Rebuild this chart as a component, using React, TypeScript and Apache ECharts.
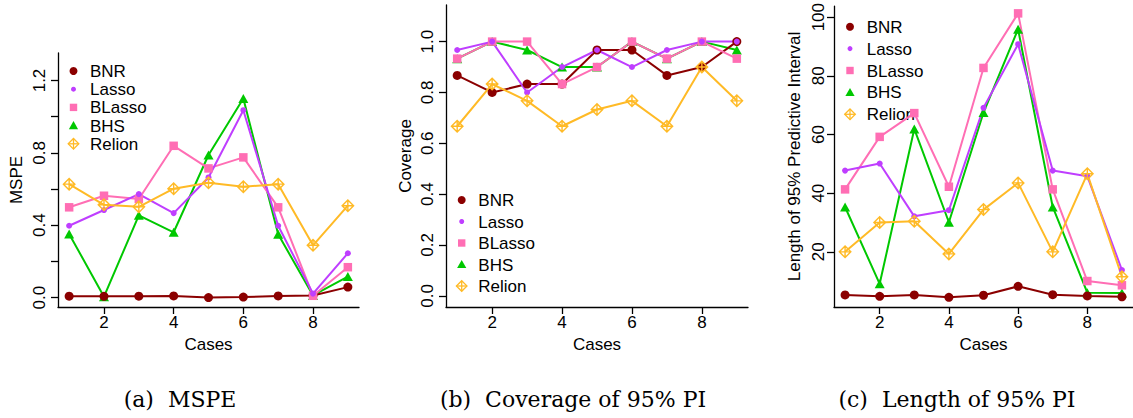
import React, { useEffect, useRef } from "react";
import * as echarts from "echarts";

// ---------- data ----------
const cases = [1, 2, 3, 4, 5, 6, 7, 8, 9];
const methodNames = ["BNR", "Lasso", "BLasso", "BHS", "Relion"];

// (a) MSPE
const mspeBNR = [0.008, 0.007, 0.008, 0.009, 0.0, 0.003, 0.009, 0.012, 0.058];
const mspeLasso = [0.397, 0.484, 0.572, 0.467, 0.664, 1.036, 0.397, 0.022, 0.245];
const mspeBLasso = [0.499, 0.563, 0.545, 0.839, 0.714, 0.775, 0.499, 0.01, 0.168];
const mspeBHS = [0.352, 0.005, 0.455, 0.361, 0.788, 1.1, 0.35, 0.012, 0.116];
const mspeRelion = [0.627, 0.513, 0.502, 0.602, 0.635, 0.613, 0.627, 0.289, 0.508];

// (b) Coverage of 95% PI
const covBNR = [0.867, 0.8, 0.833, 0.833, 0.967, 0.967, 0.867, 0.9, 1.0];
const covLasso = [0.967, 1.0, 0.8, 0.9, 0.967, 0.9, 0.967, 1.0, 1.0];
const covBLasso = [0.933, 1.0, 1.0, 0.833, 0.9, 1.0, 0.933, 1.0, 0.933];
const covBHS = [0.933, 1.0, 0.967, 0.9, 0.9, 1.0, 0.933, 1.0, 0.967];
const covRelion = [0.667, 0.833, 0.767, 0.667, 0.733, 0.767, 0.667, 0.9, 0.767];

// (c) Length of 95% PI
const lenBNR = [5.3, 4.85, 5.3, 4.5, 5.2, 8.25, 5.4, 4.96, 4.7];
const lenLasso = [47.7, 50.1, 32.1, 34.2, 69.1, 90.8, 47.7, 45.8, 13.8];
const lenBLasso = [41.3, 59.2, 67.3, 42.2, 82.7, 101.3, 41.3, 10.05, 8.6];
const lenBHS = [35.3, 9.1, 61.9, 30.1, 67.5, 95.9, 35.3, 6.1, 6.0];
const lenRelion = [20.0, 30.0, 30.4, 19.3, 34.4, 43.5, 20.0, 46.6, 11.5];

// tick labels
const xTicks = [2, 4, 6, 8];
const mspeTicks = [0, 0.2, 0.4, 0.6, 0.8, 1.0, 1.2];
const mspeLabels = [0, 0.4, 0.8, 1.2];
const covTicks = [0, 0.2, 0.4, 0.6, 0.8, 1.0];
const lenTicks = [20, 40, 60, 80, 100];

const captions = ["(a)  MSPE", "(b)  Coverage of 95% PI", "(c)  Length of 95% PI"];
const yNames = ["MSPE", "Coverage", "Length of 95% Predictive Interval"];

// ---------- styles ----------
const COLORS: Record<string, string> = {
  BNR: "#8B0000",
  Lasso: "#BF3EFF",
  BLasso: "#FF6EB4",
  BHS: "#00C800",
  Relion: "#FFBA26",
};
const DIAMOND = "path://M5 0L10 5L5 10L0 5Z M5 0L5 10 M0 5L10 5";
const SANS = "'Liberation Sans', Arial, sans-serif";
const SERIF = "'DejaVu Serif', serif";

function symbolFor(name: string) {
  switch (name) {
    case "BNR":
      return { symbol: "circle", symbolSize: 9 };
    case "Lasso":
      return { symbol: "circle", symbolSize: 6 };
    case "BLasso":
      return { symbol: "rect", symbolSize: 8.5 };
    case "BHS":
      return { symbol: "triangle", symbolSize: [10, 9] };
    default:
      return { symbol: DIAMOND, symbolSize: 11.5 };
  }
}

const drawOrder = ["BHS", "BNR", "BLasso", "Lasso", "Relion"];

function makeSeries(gridIdx: number, values: Record<string, number[]>) {
  return drawOrder.map((name) => {
    const c = COLORS[name];
    const s = symbolFor(name);
    const isRelion = name === "Relion";
    return {
      type: "line",
      name,
      xAxisIndex: gridIdx,
      yAxisIndex: gridIdx,
      data: cases.map((x, i) => [x, values[name][i]]),
      symbol: s.symbol,
      symbolSize: s.symbolSize,
      showAllSymbol: true,
      lineStyle: { color: c, width: 2 },
      itemStyle: isRelion
        ? { color: "rgba(0,0,0,0)", borderColor: c, borderWidth: 1.4 }
        : { color: c, borderWidth: 0 },
      emphasis: { disabled: true },
      z: 3,
    };
  });
}

// layout of panels (pixel boxes)
const grids = [
  { left: 58, top: 53, width: 301, height: 254 },
  { left: 446, top: 5, width: 302, height: 302 },
  { left: 834, top: 5, width: 302, height: 302 },
];
const legendPos = [
  { x: 73.5, y: 71, dy: 18.2, tx: 90 },
  { x: 461.7, y: 200, dy: 21.5, tx: 478.3 },
  { x: 850, y: 26.7, dy: 21.9, tx: 866.7 },
];
const captionX = [180, 573, 957];

function legendGraphics(p: { x: number; y: number; dy: number; tx: number }) {
  const els: any[] = [];
  methodNames.forEach((name, i) => {
    const cy = p.y + i * p.dy;
    const c = COLORS[name];
    if (name === "BNR") {
      els.push({ type: "circle", shape: { cx: p.x, cy, r: 4 }, style: { fill: c } });
    } else if (name === "Lasso") {
      els.push({ type: "circle", shape: { cx: p.x, cy, r: 2.5 }, style: { fill: c } });
    } else if (name === "BLasso") {
      els.push({ type: "rect", shape: { x: p.x - 3.7, y: cy - 3.7, width: 7.4, height: 7.4 }, style: { fill: c } });
    } else if (name === "BHS") {
      els.push({
        type: "polygon",
        shape: { points: [[p.x, cy - 4.5], [p.x + 4.6, cy + 3.6], [p.x - 4.6, cy + 3.6]] },
        style: { fill: c },
      });
    } else {
      const r = 5.3;
      els.push({
        type: "polygon",
        shape: { points: [[p.x, cy - r], [p.x + r, cy], [p.x, cy + r], [p.x - r, cy]] },
        style: { fill: "none", stroke: c, lineWidth: 1.3 },
      });
      els.push({ type: "line", shape: { x1: p.x, y1: cy - r, x2: p.x, y2: cy + r }, style: { stroke: c, lineWidth: 1.3 } });
      els.push({ type: "line", shape: { x1: p.x - r, y1: cy, x2: p.x + r, y2: cy }, style: { stroke: c, lineWidth: 1.3 } });
    }
    els.push({
      type: "text",
      x: p.tx,
      y: cy + 0.5,
      style: { text: name, font: `17px ${SANS}`, fill: "#000", textVerticalAlign: "middle", textAlign: "left" },
    });
  });
  return els;
}

const axisLineStyle = { color: "#000", width: 1.3 };

function xAxisFor(gridIndex: number) {
  return {
    type: "value",
    gridIndex,
    min: 0.68,
    max: 9.32,
    name: "Cases",
    nameLocation: "middle",
    nameGap: 27,
    nameTextStyle: { fontFamily: SANS, fontSize: 17, color: "#000" },
    axisLine: { show: true, onZero: false, lineStyle: axisLineStyle },
    axisTick: { show: true, length: 7, customValues: xTicks, lineStyle: axisLineStyle },
    axisLabel: {
      show: true,
      customValues: xTicks,
      margin: 7,
      fontFamily: SANS,
      fontSize: 17,
      color: "#000",
    },
    splitLine: { show: false },
  };
}

function yAxisFor(
  gridIndex: number,
  min: number,
  max: number,
  ticks: number[],
  labels: number[],
  decimals: number,
  nameGap: number,
  margin: number
) {
  return {
    type: "value",
    gridIndex,
    min,
    max,
    name: yNames[gridIndex],
    nameLocation: "middle",
    nameGap,
    nameRotate: 90,
    nameTextStyle: { fontFamily: SANS, fontSize: 17, color: "#000" },
    axisLine: { show: true, onZero: false, lineStyle: axisLineStyle },
    axisTick: { show: true, length: 7, customValues: ticks, lineStyle: axisLineStyle },
    axisLabel: {
      show: true,
      customValues: labels,
      rotate: 90,
      margin,
      fontFamily: SANS,
      fontSize: 17,
      color: "#000",
      formatter: (v: number) => v.toFixed(decimals),
    },
    splitLine: { show: false },
  };
}

export default function App() {
  const ref = useRef<HTMLDivElement>(null);
  useEffect(() => {
    if (!ref.current) return;
    const chart = echarts.init(ref.current, undefined, { renderer: "svg" });

    const mspe = { BNR: mspeBNR, Lasso: mspeLasso, BLasso: mspeBLasso, BHS: mspeBHS, Relion: mspeRelion };
    const cov = { BNR: covBNR, Lasso: covLasso, BLasso: covBLasso, BHS: covBHS, Relion: covRelion };
    const len = { BNR: lenBNR, Lasso: lenLasso, BLasso: lenBLasso, BHS: lenBHS, Relion: lenRelion };

    const graphics: any[] = [];
    legendPos.forEach((p) => graphics.push(...legendGraphics(p)));
    captions.forEach((t, i) =>
      graphics.push({
        type: "text",
        x: captionX[i],
        y: 399,
        style: { text: t, font: `22px ${SERIF}`, fill: "#000", textAlign: "center", textVerticalAlign: "middle" },
      })
    );

    chart.setOption({
      animation: false,
      backgroundColor: "#fff",
      grid: grids.map((g) => ({ ...g, containLabel: false })),
      xAxis: [xAxisFor(0), xAxisFor(1), xAxisFor(2)],
      yAxis: [
        yAxisFor(0, -0.052, 1.352, mspeTicks, mspeLabels, 1, 33, 10),
        yAxisFor(1, -0.044, 1.144, covTicks, covTicks, 1, 32, 10),
        yAxisFor(2, 1.2, 103.8, lenTicks, lenTicks, 0, 31, 7),
      ],
      series: [...makeSeries(0, mspe), ...makeSeries(1, cov), ...makeSeries(2, len)],
      graphic: graphics,
    });
    return () => chart.dispose();
  }, []);
  return (
    <div
      ref={ref}
      style={{ position: "fixed", left: 0, top: 0, width: 1133, height: 418, background: "#fff" }}
    />
  );
}
